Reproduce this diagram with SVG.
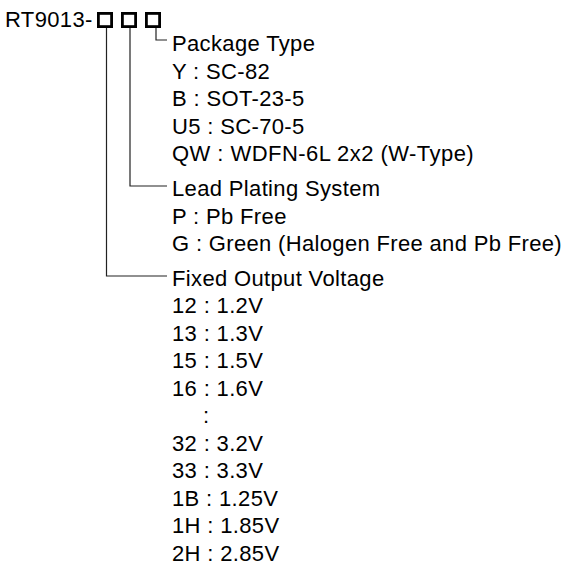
<svg xmlns="http://www.w3.org/2000/svg" width="570" height="564" viewBox="0 0 570 564">
<style>
text{font-family:"Liberation Sans",Arial,sans-serif;font-size:22px;letter-spacing:0.35px;fill:#000}
.box{fill:none;stroke:#000;stroke-width:2.8}
.conn{fill:none;stroke:#222;stroke-width:1.2}
</style>
<rect width="570" height="564" fill="#fff"/>
<g id="part-number">
<text x="5" y="27">RT9013-</text>
<rect class="box" x="98.4" y="13.4" width="13.2" height="13.2"/>
<rect class="box" x="122.4" y="13.4" width="13.2" height="13.2"/>
<rect class="box" x="146.4" y="13.4" width="13.2" height="13.2"/>
</g>
<g id="connectors">
<polyline class="conn" points="156,28 156,40 167,40"/>
<polyline class="conn" points="130,28 130,186 167,186"/>
<polyline class="conn" points="106.5,28 106.5,276 167,276"/>
</g>
<g id="package-type">
<text x="172" y="51">Package Type</text>
<text x="172" y="78.5">Y : SC-82</text>
<text x="172" y="106">B : SOT-23-5</text>
<text x="172" y="133.5">U5 : SC-70-5</text>
<text x="172" y="161" textLength="302">QW : WDFN-6L 2x2 (W-Type)</text>
</g>
<g id="lead-plating">
<text x="172" y="196">Lead Plating System</text>
<text x="172" y="223.5">P : Pb Free</text>
<text x="172" y="251" textLength="390">G : Green (Halogen Free and Pb Free)</text>
</g>
<g id="output-voltage">
<text x="172" y="286">Fixed Output Voltage</text>
<text x="172" y="313">12 : 1.2V</text>
<text x="172" y="340.5">13 : 1.3V</text>
<text x="172" y="368">15 : 1.5V</text>
<text x="172" y="395.5">16 : 1.6V</text>
<text x="203" y="423">:</text>
<text x="172" y="450.5">32 : 3.2V</text>
<text x="172" y="478">33 : 3.3V</text>
<text x="172" y="505.5">1B : 1.25V</text>
<text x="172" y="533">1H : 1.85V</text>
<text x="172" y="560.5">2H : 2.85V</text>
</g>
</svg>
